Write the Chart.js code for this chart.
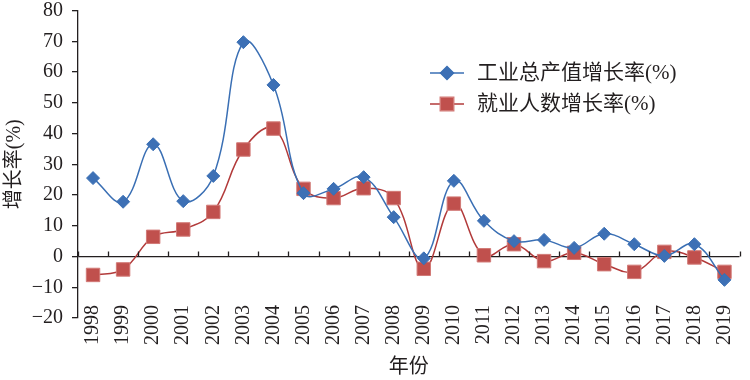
<!DOCTYPE html>
<html>
<head>
<meta charset="utf-8">
<script src="https://cdn.jsdelivr.net/npm/chart.js@4/dist/chart.umd.min.js"></script>
<style>
html,body{margin:0;padding:0;background:#fff;}
#wrap{width:750px;height:380px;position:relative;}
</style>
</head>
<body>
<div id="wrap"><canvas id="c" width="750" height="380"></canvas></div>
<script>
const years = ['1998','1999','2000','2001','2002','2003','2004','2005','2006','2007','2008','2009','2010','2011','2012','2013','2014','2015','2016','2017','2018','2019'];
const industryOutputGrowth = [25.5, 17.8, 36.5, 18.0, 26.2, 69.7, 55.8, 20.6, 22.0, 25.8, 12.8, -0.6, 24.6, 11.6, 5.0, 5.4, 2.8, 7.4, 4.0, 0.2, 4.0, -7.6];
const employmentGrowth = [-6.0, -4.2, 6.4, 8.8, 14.5, 34.8, 41.6, 22.0, 19.0, 22.2, 19.0, -4.0, 17.2, 0.4, 4.0, -1.5, 1.2, -2.5, -5.0, 1.5, -0.3, -5.0];
const seriesNames = ['工业总产值增长率(%)', '就业人数增长率(%)'];
const yTicks = [-20, -10, 0, 10, 20, 30, 40, 50, 60, 70, 80];
const xTitle = '年份';
const yTitle = '增长率(%)';

const SERIF = '"Liberation Serif", "Times New Roman", serif';
const MIXED = '"Liberation Serif", "Noto Sans CJK SC", serif';
const AXIS = '#231f20';

const blue = {line:'#3a6fb4', fill:'#3d70b5', border:'#3a6fb4'};
const red = {line:'#b23a3a', fill:'#c0504d', border:'#d27a77'};

const xBoundaryTicks = {
  id:'xBoundaryTicks',
  afterDraw(chart){
    const xs = chart.scales.x, ys = chart.scales.y, ctx = chart.ctx;
    const y0 = ys.getPixelForValue(0);
    const n = years.length;
    const step = xs.getPixelForValue(1) - xs.getPixelForValue(0);
    ctx.save();
    ctx.strokeStyle = AXIS; ctx.lineWidth = 1.3;
    for(let i=0;i<=n;i++){
      const x = Math.round(xs.getPixelForValue(i) - step/2) + 0.5;
      ctx.beginPath(); ctx.moveTo(x, y0); ctx.lineTo(x, y0-5); ctx.stroke();
    }
    ctx.restore();
  }
};

const innerLegend = {
  id:'innerLegend',
  afterDraw(chart){
    const ctx = chart.ctx;
    const rows = [{y:73}, {y:104}];
    ctx.save();
    chart.data.datasets.forEach((ds, i) => {
      const y = rows[i].y;
      ctx.strokeStyle = ds.borderColor; ctx.lineWidth = 1.5;
      ctx.beginPath(); ctx.moveTo(430, y); ctx.lineTo(464, y); ctx.stroke();
      ctx.fillStyle = ds.pointBackgroundColor; ctx.strokeStyle = ds.pointBorderColor;
      Chart.helpers.drawPoint(ctx, {pointStyle: ds.pointStyle, radius: ds.pointRadius, rotation: 0, borderWidth: ds.pointBorderWidth}, 447, y);
      ctx.fillStyle = '#231f20';
      ctx.font = '21px ' + MIXED;
      ctx.textBaseline = 'middle'; ctx.textAlign = 'left';
      ctx.fillText(ds.label, 477, y);
    });
    ctx.restore();
  }
};

new Chart(document.getElementById('c'), {
  type:'line',
  data:{
    labels: years,
    datasets:[
      {label: seriesNames[0], data: industryOutputGrowth, borderColor: blue.line, borderWidth:1.5,
       pointStyle:'rectRot', pointRadius:6.5, pointBackgroundColor: blue.fill, pointBorderColor: blue.border, pointBorderWidth:1,
       tension:0.4, fill:false},
      {label: seriesNames[1], data: employmentGrowth, borderColor: red.line, borderWidth:1.5,
       pointStyle:'rect', pointRadius:9.5, pointBackgroundColor: red.fill, pointBorderColor: red.border, pointBorderWidth:1,
       tension:0.4, fill:false}
    ]
  },
  options:{
    responsive:false, animation:false, devicePixelRatio:1,
    layout:{padding:{top:8, right:1, bottom:0, left:0}},
    plugins:{legend:{display:false}, tooltip:{enabled:false}},
    scales:{
      x:{
        type:'category', offset:true,
        grid:{display:false, drawTicks:false}, border:{display:false},
        ticks:{font:{family:SERIF, size:20}, color:'#231f20', minRotation:90, maxRotation:90, padding:-13, autoSkip:false},
        title:{display:true, text:xTitle, font:{family:MIXED, size:20}, color:'#231f20', padding:{top:0, bottom:0}},
        afterFit(s){
          s.height = 62; s.paddingLeft = 0; s.paddingRight = 0;
          s._computeLabelArea = function(){ return undefined; };
        }
      },
      y:{
        min:-20, max:80,
        afterBuildTicks(s){ s.ticks = yTicks.map(v => ({value:v})); },
        grid:{color: c => (c.tick && c.tick.value === 0) ? AXIS : 'rgba(0,0,0,0)', lineWidth:1.3, tickColor:AXIS, tickLength:6, drawTicks:true},
        border:{display:true, color:AXIS, width:1.3},
        ticks:{font:{family:SERIF, size:20}, color:'#231f20', padding:9,
               callback: v => String(v).replace('-', '\u2212')},
        title:{display:true, text:yTitle, font:{family:MIXED, size:20}, color:'#231f20', padding:{top:3, bottom:0}},
        afterFit(s){ s.width = 78; s.paddingTop = 0; s.paddingBottom = 0; }
      }
    }
  },
  plugins:[xBoundaryTicks, innerLegend]
});
</script>
</body>
</html>
